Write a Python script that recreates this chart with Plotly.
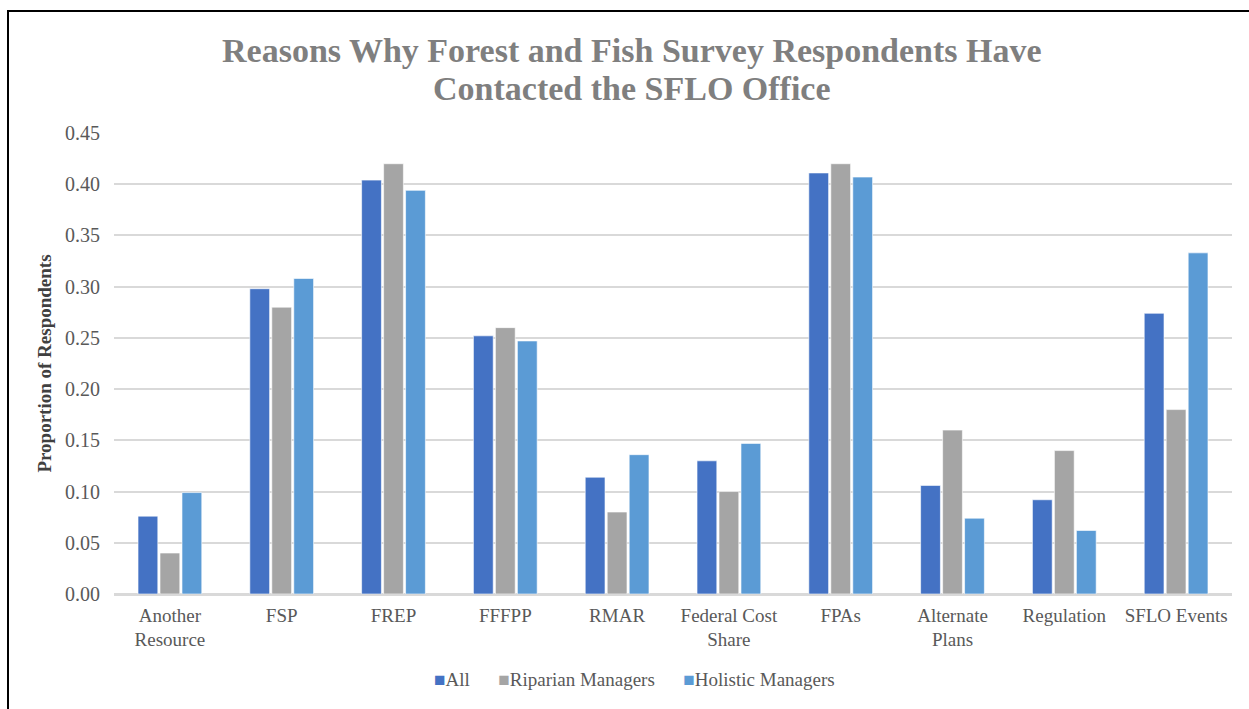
import plotly.graph_objects as go

categories = ["Another<br>Resource", "FSP", "FREP", "FFFPP", "RMAR",
              "Federal Cost<br>Share", "FPAs", "Alternate<br>Plans", "Regulation", "SFLO Events"]
all_vals = [0.076, 0.298, 0.404, 0.252, 0.114, 0.130, 0.411, 0.106, 0.092, 0.274]
riparian_vals = [0.040, 0.280, 0.420, 0.260, 0.080, 0.100, 0.420, 0.160, 0.140, 0.180]
holistic_vals = [0.099, 0.308, 0.394, 0.247, 0.136, 0.147, 0.407, 0.074, 0.062, 0.333]
y_ticks = [0.0, 0.05, 0.10, 0.15, 0.20, 0.25, 0.30, 0.35, 0.40, 0.45]
series_names = ["All", "Riparian Managers", "Holistic Managers"]
series_colors = ["#4472C4", "#A5A5A5", "#5B9BD5"]
title_lines = ["Reasons Why Forest and Fish Survey Respondents Have",
               "Contacted the SFLO Office"]

W, H = 1249, 709
ML, MR, MT, MB = 114, 17, 133, 115
PW, PH = W - ML - MR, H - MT - MB

serif = "Liberation Serif"
text_grey = "#595959"


def px_x(px):
    return (px - ML) / PW


def px_y(py):
    return (H - MB - py) / PH


fig = go.Figure()
for name, vals, color in zip(series_names, [all_vals, riparian_vals, holistic_vals], series_colors):
    fig.add_trace(go.Bar(
        x=categories, y=vals, name=name,
        marker=dict(color=color, line=dict(color="rgba(255,255,255,0.6)", width=1)),
    ))

# outer frame around the chart
fig.add_shape(type="rect", xref="paper", yref="paper",
              x0=px_x(8), x1=px_x(W + 20), y0=px_y(H + 20), y1=px_y(11),
              line=dict(color="black", width=2), fillcolor="rgba(0,0,0,0)")

# two-line chart title
for line, yc in zip(title_lines, [50, 89]):
    fig.add_annotation(
        text=f"<b>{line}</b>", xref="paper", yref="paper",
        x=px_x(632), xanchor="center", y=px_y(yc), yanchor="middle",
        showarrow=False, font=dict(family=serif, size=34, color="#7f7f7f"),
    )

# legend row: coloured square marker followed by the series name
legend_parts = [
    f"<span style='color:{c};font-size:19px'>■</span>{n}"
    for n, c in zip(series_names, series_colors)
]
fig.add_annotation(
    text=("&nbsp;" * 6).join(legend_parts),
    xref="paper", yref="paper", x=px_x(634), xanchor="center",
    y=px_y(679), yanchor="middle", showarrow=False,
    font=dict(family=serif, size=19, color=text_grey),
)

fig.update_layout(
    width=W, height=H,
    margin=dict(l=ML, r=MR, t=MT, b=MB),
    paper_bgcolor="white", plot_bgcolor="white",
    barmode="group", bargap=0.41, bargroupgap=0.1,
    showlegend=False,
    font=dict(family=serif, size=19, color=text_grey),
    yaxis=dict(
        range=[0, 0.45], tickvals=y_ticks, tickformat=".2f",
        showgrid=True, gridcolor="#d9d9d9", gridwidth=1.5,
        zeroline=True, zerolinecolor="#d9d9d9", zerolinewidth=1.5,
        ticks="", ticklabelstandoff=13,
        title=dict(text="<b>Proportion of Respondents</b>", standoff=8,
                   font=dict(family=serif, size=19, color="#404040")),
        tickfont=dict(family=serif, size=20, color=text_grey),
    ),
    xaxis=dict(
        showline=True, linecolor="#d9d9d9", linewidth=1.5,
        ticks="", ticklabelstandoff=3,
        tickfont=dict(family=serif, size=19, color=text_grey),
    ),
)

fig.write_html("out.html")
